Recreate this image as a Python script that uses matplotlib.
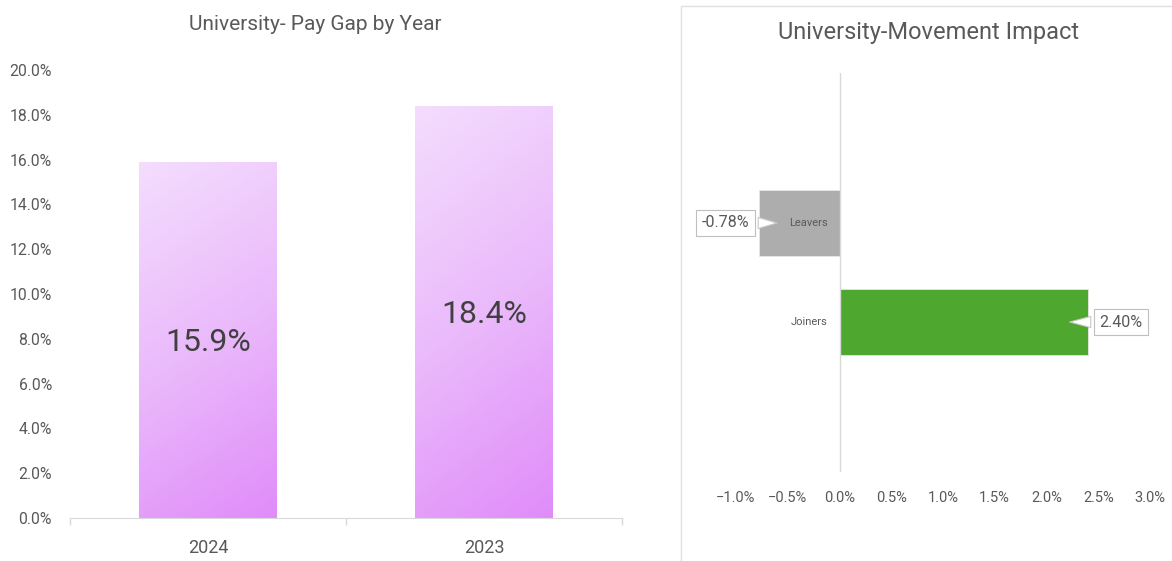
import numpy as np
import matplotlib.pyplot as plt
from matplotlib.patches import Rectangle
from matplotlib.colors import LinearSegmentedColormap
from matplotlib.ticker import PercentFormatter
from matplotlib.transforms import offset_copy

plt.rcParams['font.family'] = ['Roboto', 'DejaVu Sans']

# left chart data
years = ['2024', '2023']
pay_gap = [0.159, 0.184]

# right chart data
movement = ['Joiners', 'Leavers']
impact = [0.0240, -0.0078]
impact_colors = ['#4ea72e', '#adadad']

txt = '#595959'
grid = '#d9d9d9'

fig = plt.figure(figsize=(11.72, 5.61), dpi=100)
W, H = 1172, 561

# ---- left: pay gap by year
ax = fig.add_axes([70 / W, 43 / H, 552 / W, 448 / H])
bars = ax.bar(range(len(years)), pay_gap, width=0.5, color='none', edgecolor='none')
cmap = LinearSegmentedColormap.from_list('lilac', ['#f4ddfd', '#eabafb', '#e08cf9'])
gx, gy = np.meshgrid(np.linspace(0, 1, 60), np.linspace(0, 1, 200))
grad = 0.8 * gy + 0.2 * gx  # darker toward bottom-right
for b, v in zip(bars, pay_gap):
    x0 = b.get_x()
    im = ax.imshow(grad, cmap=cmap, extent=[x0, x0 + b.get_width(), 0, v],
                   origin='upper', aspect='auto', zorder=2)
    im.set_clip_path(b)
    ax.text(b.get_x() + b.get_width() / 2, v / 2, f'{v * 100:.1f}%',
            ha='center', va='center_baseline', fontsize=23, color='#404040', zorder=3)

ax.set_xlim(-0.5, len(years) - 0.5)
ax.set_ylim(0, 0.20)
ax.set_yticks(np.arange(0, 0.201, 0.02))
ax.yaxis.set_major_formatter(PercentFormatter(1.0, decimals=1))
ax.set_xticks(range(len(years)))
ax.set_xticklabels(years)
ax.set_xticks(np.arange(-0.5, len(years), 1.0), minor=True)
ax.tick_params(axis='x', which='major', length=0, pad=15, labelsize=13, colors=txt)
ax.tick_params(axis='x', which='minor', length=5, color=grid, width=1)
ax.tick_params(axis='y', length=0, pad=13, labelsize=11.3, colors=txt)
for s in ['top', 'right', 'left']:
    ax.spines[s].set_visible(False)
ax.spines['bottom'].set_color(grid)
fig.text(315 / W, 1 - 25 / H, 'University- Pay Gap by Year', ha='center', va='center',
         fontsize=15, color=txt)

# ---- right: movement impact
ax2 = fig.add_axes([736 / W, (H - 472) / H, 414 / W, 399 / H])
ypos = np.arange(len(movement))
ax2.barh(ypos, impact, height=0.667, color=impact_colors, edgecolor='#e6e6e6',
         linewidth=0.6, zorder=2)
ax2.axvline(0, color=grid, lw=1, zorder=3)
ax2.set_xlim(-0.01, 0.03)
ax2.set_ylim(-1.515, 2.515)
ax2.set_xticks(np.arange(-0.01, 0.0301, 0.005))
ax2.xaxis.set_major_formatter(PercentFormatter(1.0, decimals=1))
ax2.set_yticks([])
ax2.tick_params(axis='x', length=0, pad=14, labelsize=10.5, colors=txt)
for s in ax2.spines.values():
    s.set_visible(False)

# category names next to the zero line
cat_tr = offset_copy(ax2.transData, fig=fig, x=-12, y=0, units='dots')
for y, name in zip(ypos, movement):
    ax2.text(0, y, name, transform=cat_tr, ha='right', va='center',
             fontsize=8, color=txt, zorder=6)

for y, v in zip(ypos, impact):
    sgn = 1 if v > 0 else -1
    tip = v - sgn * 0.00203
    ax2.annotate(f'{v * 100:.2f}%', xy=(tip, y), xytext=(sgn * 39, 0),
                 textcoords='offset points', ha='center', va='center',
                 fontsize=11.5, color=txt, zorder=5,
                 bbox=dict(boxstyle='square,pad=0.35', fc='white', ec='#bfbfbf', lw=0.8),
                 arrowprops=dict(arrowstyle='wedge,tail_width=0.7,shrink_factor=0.5',
                                 fc='white', ec='#c8c8c8', lw=0.8))

fig.text(929 / W, 1 - 33 / H, 'University-Movement Impact', ha='center', va='center',
         fontsize=17, color=txt)

# panel border of right chart
fig.patches.append(Rectangle((681 / W, -0.01), 0.5, (H - 5.5) / H + 0.01,
                             transform=fig.transFigure, fill=False, ec='#e0e0e0', lw=1))

fig.savefig('out.png', dpi=100)
